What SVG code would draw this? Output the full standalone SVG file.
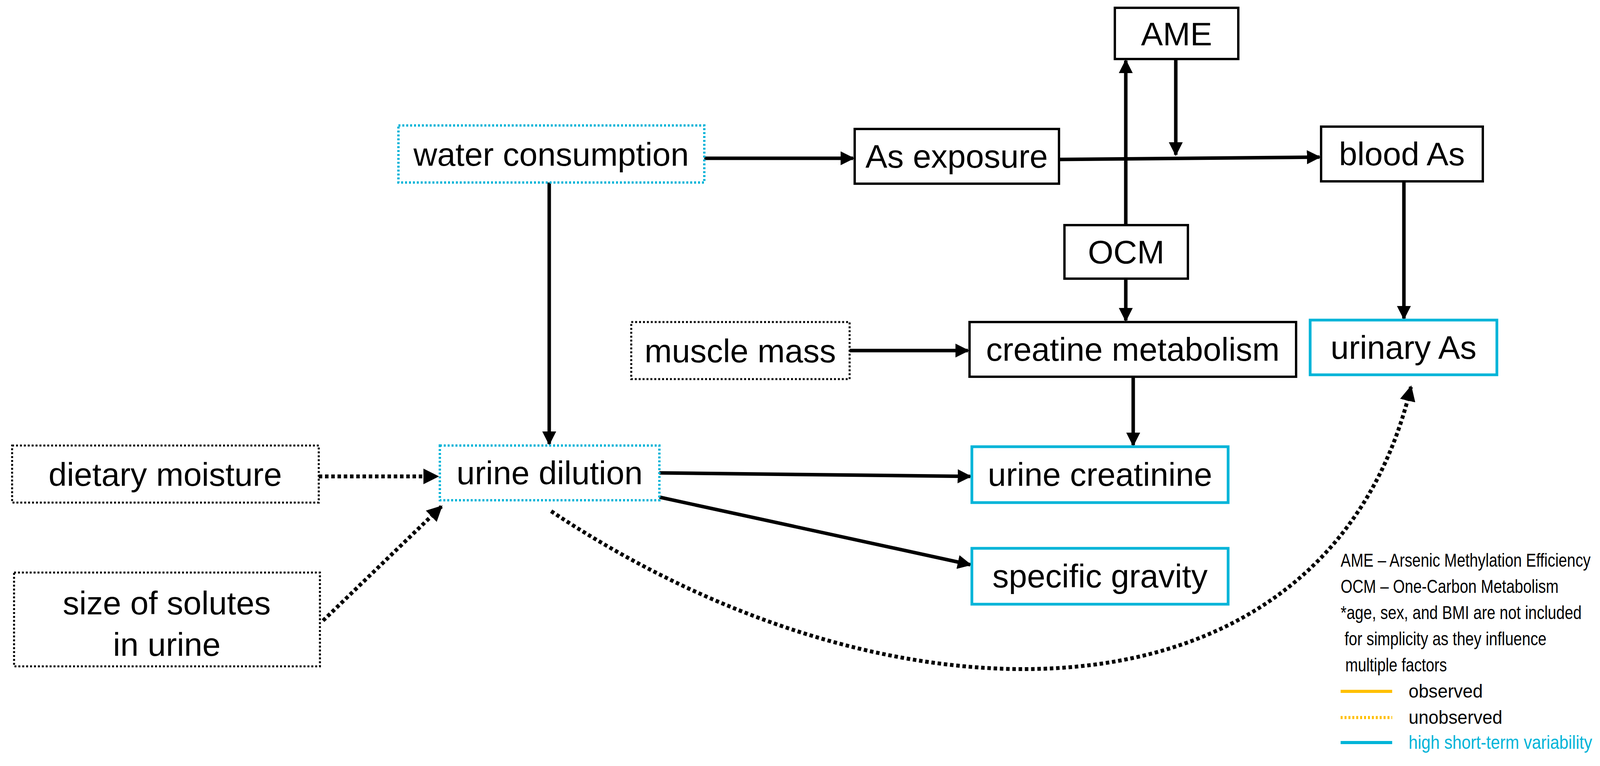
<svg xmlns="http://www.w3.org/2000/svg" width="4382" height="1960" viewBox="0 0 4382 1960">
<style>
text{font-family:"Liberation Sans",Arial,sans-serif;fill:#000}
.n{font-size:84px;text-anchor:middle}
.box{fill:#fff;stroke:#000;stroke-width:6}
.cyan{fill:#fff;stroke:#00b4d8;stroke-width:7}
.cyd{fill:#fff;stroke:#00b4d8;stroke-width:6;stroke-dasharray:5 5}
.bd{fill:#fff;stroke:#000;stroke-width:5;stroke-dasharray:5 5}
.c{fill:none;stroke:#000;stroke-width:9}
.d{fill:none;stroke:#000;stroke-width:10;stroke-dasharray:9 7}
.lg{font-size:48px}
</style>
<defs>
<marker id="a" viewBox="0 0 10 10" refX="9" refY="5" markerWidth="4" markerHeight="4" orient="auto" markerUnits="strokeWidth"><path d="M0 0L10 5L0 10z" fill="#000"/></marker>
</defs>
<g id="connectors">
<line class="c" x1="1803" y1="405" x2="2184" y2="405" marker-end="url(#a)"/>
<line class="c" x1="2711" y1="408" x2="3378" y2="402" marker-end="url(#a)"/>
<line class="c" x1="3010" y1="151" x2="3010" y2="396" marker-end="url(#a)" stroke-width="7"/>
<line class="c" x1="2882" y1="576" x2="2882" y2="155" marker-end="url(#a)" stroke-width="7"/>
<line class="c" x1="2882" y1="713" x2="2882" y2="820" marker-end="url(#a)" stroke-width="7"/>
<line class="c" x1="3594" y1="464" x2="3594" y2="815" marker-end="url(#a)" stroke-width="7"/>
<line class="c" x1="2175" y1="897" x2="2478" y2="897" marker-end="url(#a)"/>
<line class="c" x1="2901" y1="964" x2="2901" y2="1139" marker-end="url(#a)" stroke-width="7"/>
<line class="c" x1="1406" y1="467" x2="1406" y2="1136" marker-end="url(#a)" stroke-width="7"/>
<line class="c" x1="1688" y1="1210" x2="2484" y2="1219" marker-end="url(#a)"/>
<line class="c" x1="1688" y1="1272" x2="2484" y2="1445" marker-end="url(#a)"/>
<line class="d" x1="816" y1="1219" x2="1120" y2="1219" marker-end="url(#a)"/>
<line class="d" x1="827" y1="1588" x2="1130" y2="1296" marker-end="url(#a)"/>
<path class="d" d="M1411 1308C2300 1900 3400 1880 3612 990" marker-end="url(#a)"/>
</g>
<g id="water"><rect class="cyd" x="1020" y="321" width="783" height="146"/><text class="n" x="1411" y="424">water consumption</text></g>
<g id="asexp"><rect class="box" x="2188" y="330" width="523" height="140"/><text class="n" x="2449" y="429">As exposure</text></g>
<g id="ame"><rect class="box" x="2854" y="20" width="316" height="131"/><text class="n" x="3012" y="116">AME</text></g>
<g id="blood"><rect class="box" x="3382" y="324" width="414" height="140"/><text class="n" x="3589" y="423">blood As</text></g>
<g id="ocm"><rect class="box" x="2725" y="576" width="316" height="137"/><text class="n" x="2883" y="674">OCM</text></g>
<g id="muscle"><rect class="bd" x="1616" y="824" width="559" height="146"/><text class="n" x="1895" y="927">muscle mass</text></g>
<g id="creatine"><rect class="box" x="2482" y="824" width="836" height="140"/><text class="n" x="2900" y="923">creatine metabolism</text></g>
<g id="urinaryAs"><rect class="cyan" x="3354" y="819" width="478" height="140"/><text class="n" x="3593" y="918">urinary As</text></g>
<g id="dietary"><rect class="bd" x="31" y="1140" width="785" height="146"/><text class="n" x="423" y="1243">dietary moisture</text></g>
<g id="dilution"><rect class="cyd" x="1126" y="1140" width="562" height="140"/><text class="n" x="1407" y="1239">urine dilution</text></g>
<g id="ucreat"><rect class="cyan" x="2488" y="1143" width="656" height="143"/><text class="n" x="2816" y="1243">urine creatinine</text></g>
<g id="sg"><rect class="cyan" x="2488" y="1403" width="656" height="143"/><text class="n" x="2816" y="1503">specific gravity</text></g>
<g id="solutes"><rect class="bd" x="36" y="1465" width="783" height="240"/><text class="n" x="427" y="1572">size of solutes</text><text class="n" x="427" y="1678">in urine</text></g>
<g id="legend">
<text class="lg" x="3432" y="1450" textLength="640" lengthAdjust="spacingAndGlyphs">AME – Arsenic Methylation Efficiency</text>
<text class="lg" x="3432" y="1517" textLength="558" lengthAdjust="spacingAndGlyphs">OCM – One-Carbon Metabolism</text>
<text class="lg" x="3432" y="1584" textLength="617" lengthAdjust="spacingAndGlyphs">*age, sex, and BMI are not included</text>
<text class="lg" x="3442" y="1651" textLength="517" lengthAdjust="spacingAndGlyphs">for simplicity as they influence</text>
<text class="lg" x="3444" y="1718" textLength="260" lengthAdjust="spacingAndGlyphs">multiple factors</text>
<line x1="3432" y1="1769" x2="3564" y2="1769" stroke="#ffc000" stroke-width="8"/>
<text class="lg" x="3606" y="1785" textLength="190" lengthAdjust="spacingAndGlyphs">observed</text>
<line x1="3432" y1="1836" x2="3564" y2="1836" stroke="#ffc000" stroke-width="8" stroke-dasharray="5 5"/>
<text class="lg" x="3606" y="1852" textLength="240" lengthAdjust="spacingAndGlyphs">unobserved</text>
<line x1="3432" y1="1900" x2="3564" y2="1900" stroke="#00b4d8" stroke-width="8"/>
<text class="lg" x="3606" y="1916" textLength="470" lengthAdjust="spacingAndGlyphs" style="fill:#00b4d8">high short-term variability</text>
</g>
</svg>
